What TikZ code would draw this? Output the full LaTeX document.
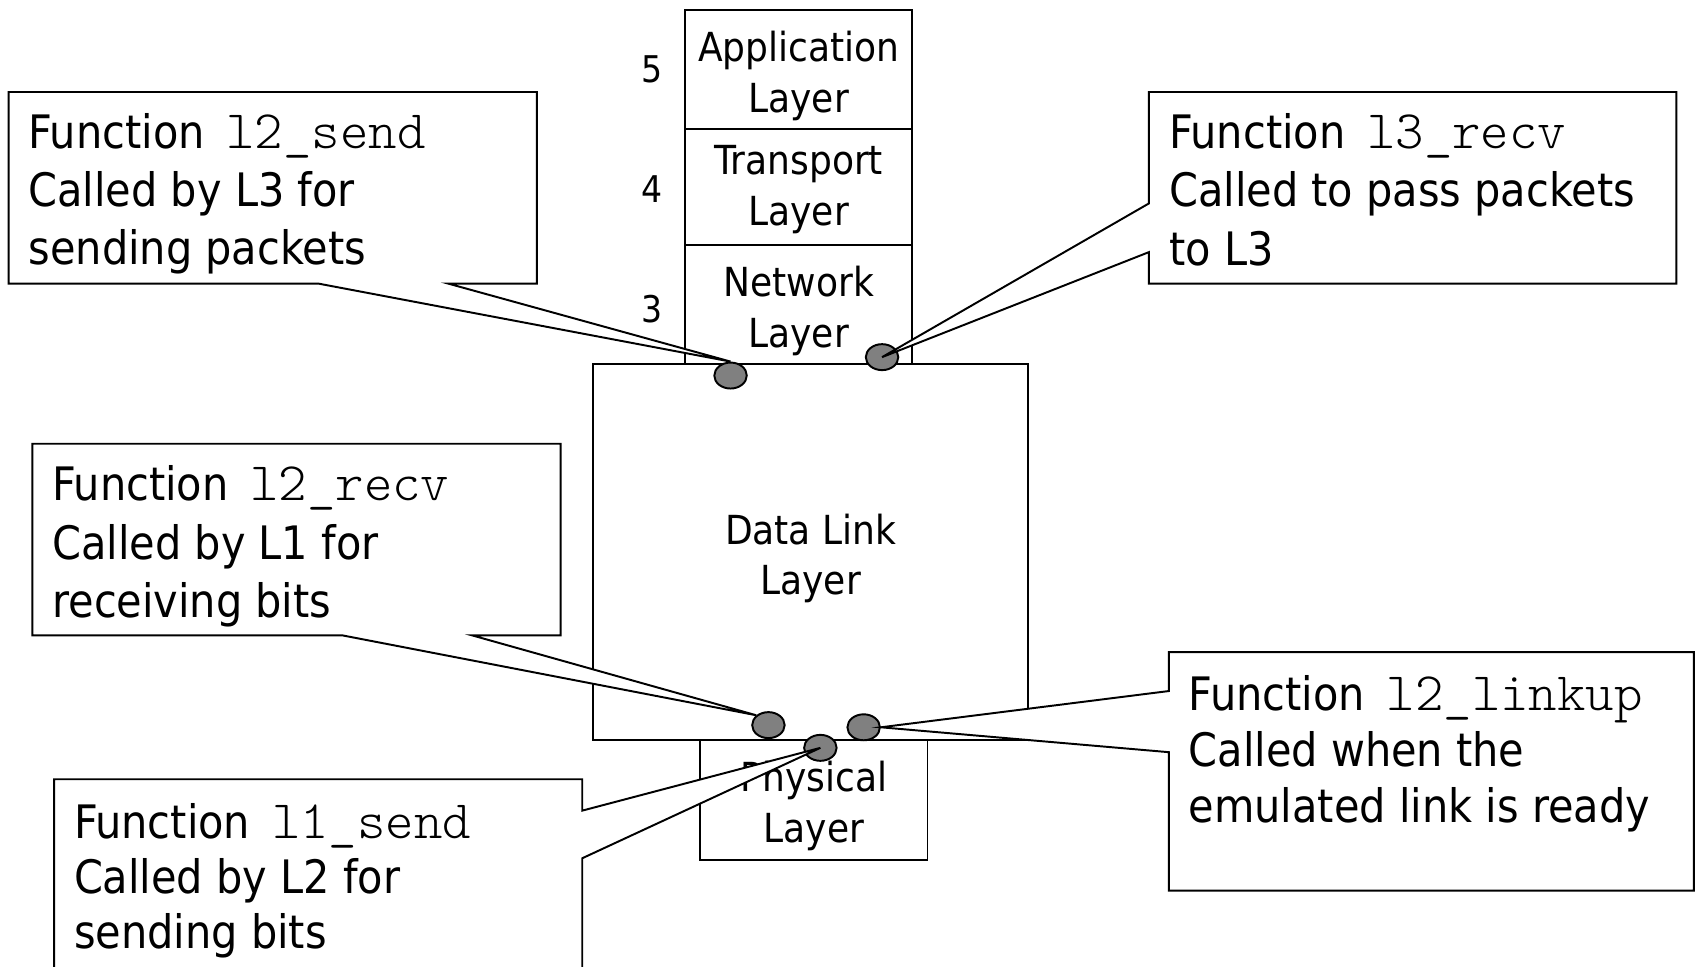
\documentclass[tikz,border=0pt]{standalone}
\usepackage{fontspec}
\setmainfont{DejaVu Sans Condensed}
\newfontfamily\codefont{lmmonolt10-regular.otf}
\newcommand{\fn}[1]{\hspace{4pt}{\codefont\fontsize{25}{27}\selectfont #1}}
\usetikzlibrary{shapes.geometric}
\definecolor{pingray}{RGB}{128,128,128}

\begin{document}
\begin{tikzpicture}[x=0.5pt,y=-0.5pt,
  frame/.style={draw=black, line width=0.9pt, fill=white, line join=miter},
  layerbox/.style={frame, rectangle, inner sep=0pt},
  layertext/.style={inner sep=0pt, align=center,
    font=\fontsize{18.5}{23.5}\selectfont},
  layernum/.style={inner sep=0pt, font=\fontsize{17}{19}\selectfont},
  pin/.style={ellipse, draw=black, line width=0.9pt, fill=pingray,
    minimum width=15pt, minimum height=12pt, inner sep=0pt},
  note/.style={anchor=west, inner sep=0pt, align=left,
    font=\fontsize{21.3}{27}\selectfont}]

\clip (0,0) rectangle (1568,893);

% protocol stack
\node[layerbox, minimum width=105pt, minimum height=55pt] (app) at (738,64) {};
\node[layerbox, minimum width=105pt, minimum height=53.5pt] (trans) at (738,172.5) {};
\node[layerbox, minimum width=105pt, minimum height=55pt] (net) at (738,281) {};
\node[layerbox, minimum width=105pt, minimum height=55.5pt] (phy) at (752,739.5) {};
\node[layertext] (phyt) at (752,745) {Physical\\Layer};
\node[layerbox, minimum width=201pt, minimum height=174pt] (dll) at (749,510) {};

\node[layertext] (appt) at (738,70) {Application\\Layer};
\node[layertext] (transt) at (738,175) {Transport\\Layer};
\node[layertext] (nett) at (738,287.5) {Network\\Layer};
\node[layertext] (dllt) at (749,516) {Data Link\\Layer};

\node[layernum] (n5) at (602,64) {5};
\node[layernum] (n4) at (602,175) {4};
\node[layernum] (n3) at (602,285.5) {3};

% interface points
\node[pin] (e1) at (675,347) {};
\node[pin] (e2) at (815,330) {};
\node[pin] (e3) at (710,670) {};
\node[pin] (e4) at (798,672) {};
\node[pin] (e5) at (758,691) {};

% callouts
\draw[frame] (8,85) -- (496,85) -- (496,262) -- (414,262) -- (e1.north)
  -- (294,262) -- (8,262) -- cycle;
\node[note] (t1) at (26,179) {Function \fn{l2\_send}\\Called by L3 for\\sending packets};

\draw[frame] (1061.5,85) -- (1549,85) -- (1549,262) -- (1061.5,262)
  -- (1061.5,233) -- (e2.center) -- (1061.5,188) -- cycle;
\node[note] (t2) at (1080,175) {Function \fn{l3\_recv}\\Called to pass packets\\to L3};

\draw[frame] (30,410) -- (518,410) -- (518,587) -- (436,587) -- (e3.north west)
  -- (316,587) -- (30,587) -- cycle;
\node[note] (t3) at (48,505) {Function \fn{l2\_recv}\\Called by L1 for\\receiving bits};

\draw[frame] (1080,602.5) -- (1565,602.5) -- (1565,823) -- (1080,823)
  -- (1080,695) -- (e4.east) -- (1080,638.5) -- cycle;
\node[note, font=\fontsize{21.3}{26}\selectfont] (t4) at (1098,696.5) {Function \fn{l2\_linkup}\\Called when the\\emulated link is ready};

\draw[frame] (50,720) -- (538,720) -- (538,749) -- (e5.center) -- (538,793)
  -- (538,910) -- (50,910) -- cycle;
\node[note, font=\fontsize{21.3}{25.5}\selectfont] (t5) at (68,814) {Function \fn{l1\_send}\\Called by L2 for\\sending bits};

\end{tikzpicture}
\end{document}
